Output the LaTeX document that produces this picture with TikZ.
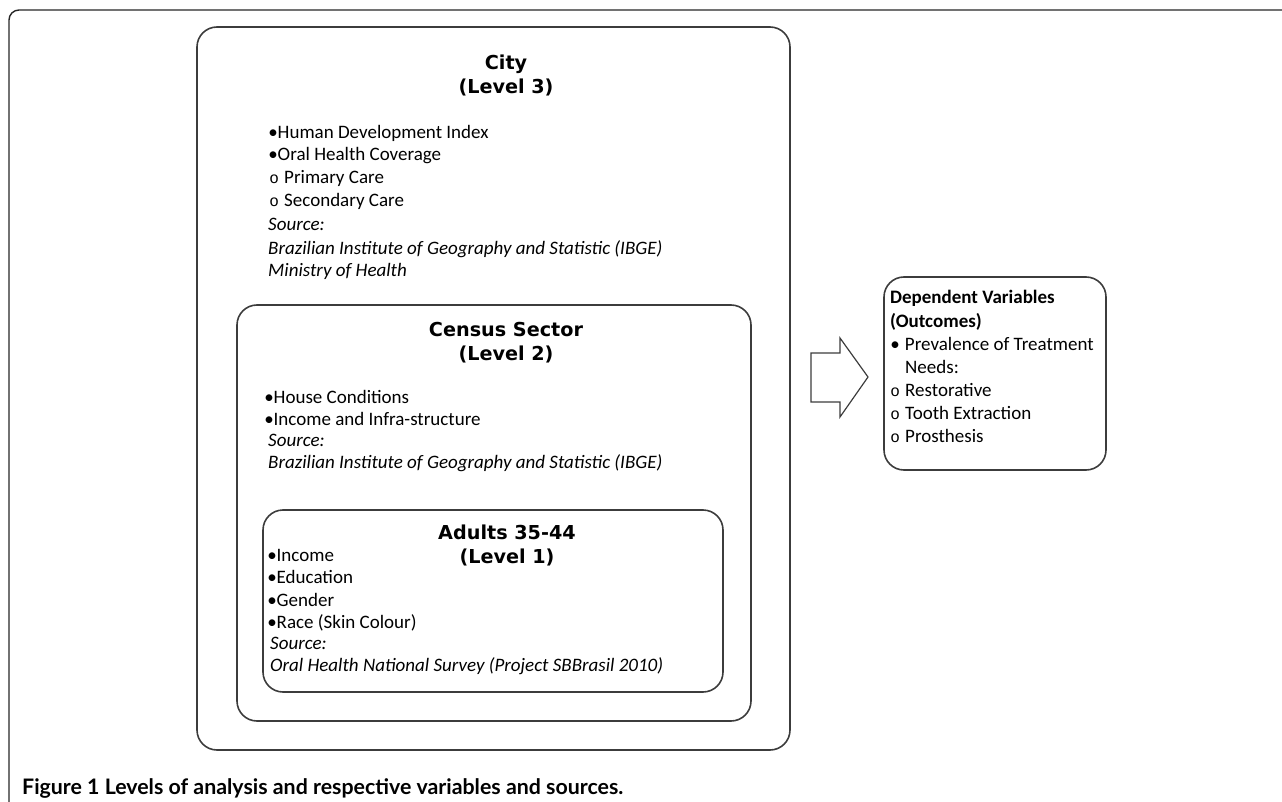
\documentclass[tikz,border=0pt]{standalone}
\usepackage{fontspec}
\setmainfont{Carlito}
\newfontfamily\titlefont{DejaVu Sans}
\newfontfamily\monofont{Liberation Mono}
\newfontfamily\capfont{Lato}
\newcommand\bl{\makebox[9pt][c]{•}}
\newcommand\sbl{\makebox[12pt][c]{\monofont\fontsize{16}{16}\selectfont o}\hspace{4pt}}
\definecolor{boxline}{HTML}{3C3C3C}
\begin{document}
\begin{tikzpicture}[x=1pt,y=-1pt,
  frame/.style={draw=boxline,line width=1.6pt,rounded corners=20pt},
  txt/.style={anchor=base west,inner sep=0pt,font=\fontsize{19}{23}\selectfont},
  ttl/.style={anchor=base,inner sep=0pt,align=center,font=\titlefont\bfseries\fontsize{19.2}{24}\selectfont},
  arrowshape/.style={draw=boxline,line width=1.2pt,line join=miter}]
\useasboundingbox (0,0) rectangle (1282,802);
% outer frame
\draw[line width=1.4pt,black!85,rounded corners=10pt] (1290,10) -- (9,10) -- (9,810);
% boxes
\draw[frame] (197,27) rectangle (790,750);
\draw[frame] (237,305) rectangle (751,721);
\draw[frame] (263,510) rectangle (723,692);
\draw[frame] (884,277) rectangle (1106,470);
% City
\node[ttl] (cityT) at (506,94) {City\\(Level 3)};
\node[txt] (c1) at (268.5,139) {\bl Human Development Index};
\node[txt] (c2) at (268.5,161) {\bl Oral Health Coverage};
\node[txt] (c3) at (268,184) {\sbl Primary Care};
\node[txt] (c4) at (268,207) {\sbl Secondary Care};
\node[txt] (c5) at (268,231) {\itshape Source:};
\node[txt] (c6) at (268,255) {\itshape Brazilian Institute of Geography and Statistic (IBGE)};
\node[txt] (c7) at (268,277) {\itshape Ministry of Health};
% Census
\node[ttl] (cenT) at (506,360) {Census Sector\\(Level 2)};
\node[txt] (s1) at (264.5,403) {\bl House Conditions};
\node[txt] (s2) at (264.5,425) {\bl Income and Infra-structure};
\node[txt] (s3) at (268,446) {\itshape Source:};
\node[txt] (s4) at (268,468) {\itshape Brazilian Institute of Geography and Statistic (IBGE)};
% Adults
\node[ttl] (adT) at (507,563) {Adults 35-44\\(Level 1)};
\node[txt] (a1) at (267.5,561) {\bl Income};
\node[txt] (a2) at (267.5,583) {\bl Education};
\node[txt] (a3) at (267.5,606) {\bl Gender};
\node[txt] (a4) at (267.5,628) {\bl Race (Skin Colour)};
\node[txt] (a5) at (270,649) {\itshape Source:};
\node[txt] (a6) at (270,671) {\itshape Oral Health National Survey (Project SBBrasil 2010)};
% arrow
\draw[arrowshape] (811,353) -- (840,353) -- (840,338) -- (868,377) -- (840,417) -- (840,402) -- (811,402) -- cycle;
% Dependent
\node[txt] (d1) at (890,304) {\bfseries Dependent Variables};
\node[txt] (d2) at (890,327) {\bfseries (Outcomes)};
\node[txt] (d3) at (890.5,350) {\bl\hspace{1pt} Prevalence of Treatment};
\node[txt] (d4) at (905,373) {Needs:};
\node[txt] (d5) at (889,396) {\sbl Restorative};
\node[txt] (d6) at (889,419) {\sbl Tooth Extraction};
\node[txt] (d7) at (889,442) {\sbl Prosthesis};
% caption
\node[anchor=base west,inner sep=0pt] (cap) at (22,794) {\resizebox{601pt}{!}{\capfont\bfseries\fontsize{19}{23}\selectfont Figure 1 Levels of analysis and respective variables and sources.}};
\end{tikzpicture}
\end{document}
